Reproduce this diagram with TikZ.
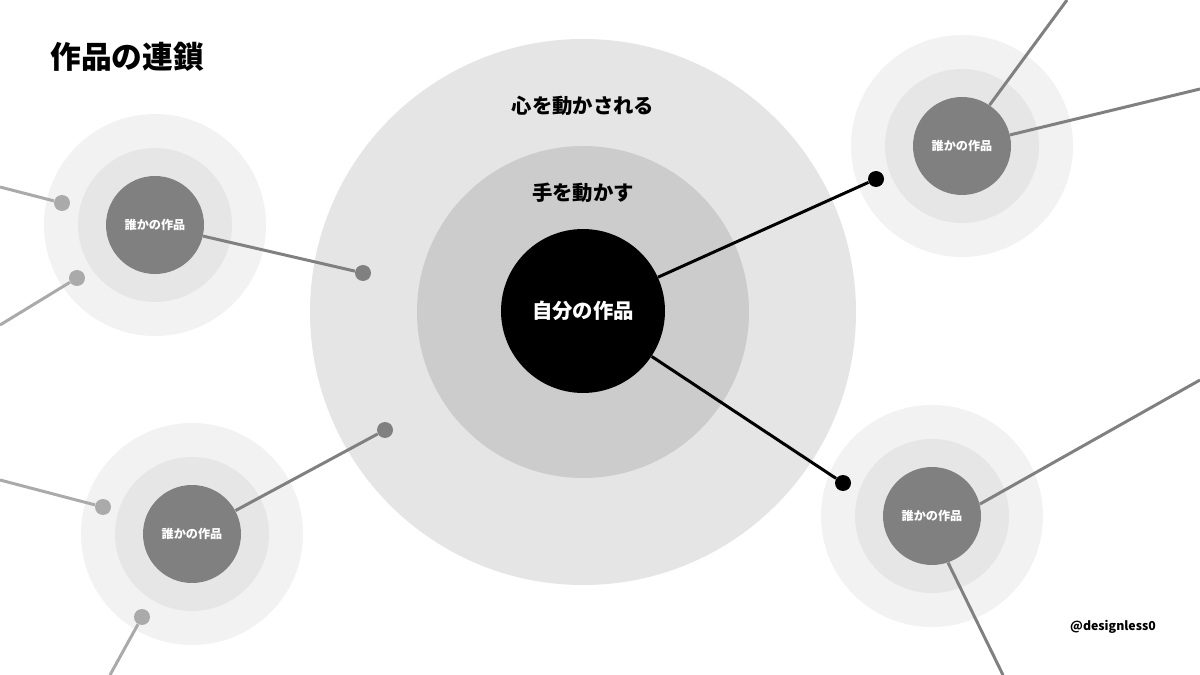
\documentclass[tikz,border=0pt]{standalone}
\usepackage{fontspec}
\newfontfamily\jpfont{Noto Sans CJK JP}

\begin{document}
\begin{tikzpicture}[x=0.02cm, y=-0.02cm,
  otherwork/.style={circle, fill=workgray, inner sep=0pt, minimum size=1.96cm, text=white, font=\jpfont\bfseries\fontsize{6.9}{8}\selectfont},
  mywork/.style={circle, fill=black, inner sep=0pt, minimum size=3.28cm, text=white, font=\jpfont\bfseries\fontsize{11.6}{14}\selectfont},
  ringlabel/.style={font=\jpfont\bfseries\fontsize{11.6}{14}\selectfont},
  joint/.style={circle, fill=#1, inner sep=0pt, minimum size=0.32cm},
  tie/.style={draw=#1, line width=1.7pt}]

% Colors
\definecolor{workgray}{RGB}{128,128,128}
\definecolor{fadegray}{RGB}{170,170,170}
\definecolor{ringlight}{RGB}{242,242,242}
\definecolor{ringmid}{RGB}{230,230,230}
\definecolor{heartgray}{RGB}{229,229,229}
\definecolor{handgray}{RGB}{204,204,204}

% Parameters
\def\rOuter{111}
\def\rMid{77}

\useasboundingbox (0,0) rectangle (1200,675);
\fill[white] (0,0) rectangle (1200,675);

% Big circles
\fill[heartgray] (583,312) circle (273);
\fill[handgray] (583,312) circle (166);

% Other works with their rings
\foreach \name/\cx/\cy in {A/155/225, B/962/146, C/932/516, D/192/534} {
  \fill[ringlight] (\cx,\cy) circle (\rOuter);
  \fill[ringmid] (\cx,\cy) circle (\rMid);
  \node[otherwork] (\name) at (\cx,\cy) {誰かの作品};
}

% Own work
\node[mywork] (self) at (583,311) {自分の作品};
\node[ringlabel] (heart) at (583,106) {心を動かされる};
\node[ringlabel] (hand) at (583,193) {手を動かす};

% Joints
\node[joint=black] (jB) at (876,179) {};
\node[joint=black] (jC) at (843,483) {};
\node[joint=workgray] (jA) at (363,273) {};
\node[joint=workgray] (jD) at (385,430) {};
\node[joint=fadegray] (fA1) at (62,203) {};
\node[joint=fadegray] (fA2) at (77,278) {};
\node[joint=fadegray] (fD1) at (103,507) {};
\node[joint=fadegray] (fD2) at (142,617) {};

% Free ends
\coordinate (eA1) at (0,187);
\coordinate (eA2) at (0,325);
\coordinate (eD1) at (0,480);
\coordinate (eD2) at (110,675);
\coordinate (eB1) at (1067,0);
\coordinate (eB2) at (1200,89);
\coordinate (eC1) at (1200,380);
\coordinate (eC2) at (1003,675);

% Ties
\draw[tie=black] (self) -- (jB);
\draw[tie=black] (self) -- (jC);
\draw[tie=workgray] (A) -- (jA);
\draw[tie=workgray] (D) -- (jD);
\draw[tie=workgray] (B.56) -- (eB1);
\draw[tie=workgray] (B.13) -- (eB2);
\draw[tie=workgray] (C.14) -- (eC1);
\draw[tie=workgray] (C.-71) -- (eC2);
\draw[tie=fadegray] (eA1) -- (fA1);
\draw[tie=fadegray] (eA2) -- (fA2);
\draw[tie=fadegray] (eD1) -- (fD1);
\draw[tie=fadegray] (eD2) -- (fD2);

% Title and handle
\node[anchor=west, inner sep=0pt, font=\jpfont\bfseries\fontsize{17.5}{20}\selectfont] (title) at (50,57) {作品の連鎖};
\node[font=\jpfont\bfseries\fontsize{7}{8}\selectfont] (handle) at (1113,627) {@designless0};
\end{tikzpicture}
\end{document}
